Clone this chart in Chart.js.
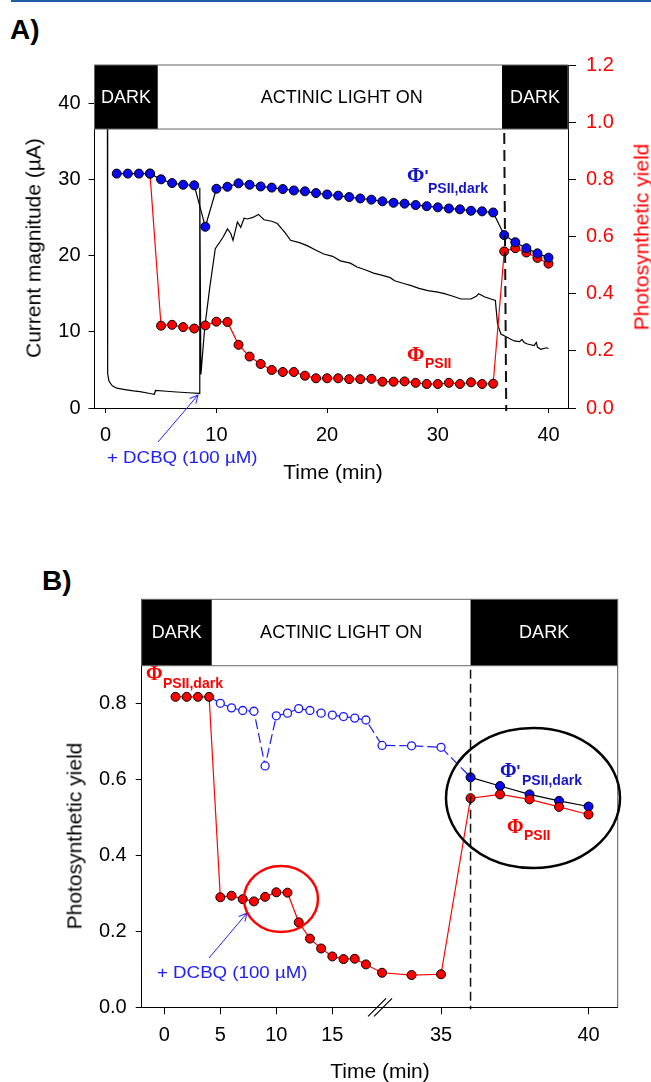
<!DOCTYPE html>
<html>
<head>
<meta charset="utf-8">
<script src="https://cdn.jsdelivr.net/npm/chart.js@4.4.1/dist/chart.umd.min.js"></script>
<style>
  body { margin: 0; background: #fff; }
  #page { position: relative; width: 651px; height: 1082px; overflow: hidden; font-family: "Liberation Sans", Arial, sans-serif; }
  canvas { position: absolute; left: 0; }
  .t { position: absolute; white-space: nowrap; line-height: 1; }
  .phi { font-family: "Liberation Serif", serif; font-weight: bold; font-size: 21px; }
  .sub { font-weight: bold; font-size: 14px; }
  .ttl { font-size: 21px; transform: translate(-50%, -50%); }
  .rot { transform: translate(-50%, -50%) rotate(-90deg); }
  .blue { color: #1414c8; }
  .red { color: #ff0000; }
</style>
</head>
<body>
<div id="page">
  <div style="position:absolute;left:11px;top:0;width:640px;height:2px;background:#1f5ca8"></div>
  <div class="t" style="left:10px;top:16px;font-size:28px;font-weight:bold">A)</div>
  <div class="t" style="left:42px;top:567px;font-size:28px;font-weight:bold">B)</div>

  <canvas id="chartA" width="651" height="470" style="top:0"></canvas>
  <canvas id="chartB" width="651" height="542" style="top:540px"></canvas>

  <!-- axis titles -->
  <div class="t ttl rot" style="left:33px;top:248px">Current magnitude (µA)</div>
  <div class="t ttl rot red" style="left:641px;top:237px">Photosynthetic yield</div>
  <div class="t ttl" style="left:333px;top:471px">Time (min)</div>
  <div class="t ttl rot" style="left:74px;top:836px">Photosynthetic yield</div>
  <div class="t ttl" style="left:380px;top:1070px">Time (min)</div>

  <!-- labels panel A -->
  <div class="t phi blue" style="left:407px;top:165px">Φ<span style="font-family:'Liberation Sans';font-size:17px">'</span></div>
  <div class="t sub blue" style="left:428px;top:181px">PSII,dark</div>
  <div class="t phi red" style="left:407px;top:344px">Φ</div>
  <div class="t sub red" style="left:425px;top:356px">PSII</div>
  <div class="t blue" style="left:107px;top:449px;font-size:17px;color:#2020ff;transform:scaleX(1.1);transform-origin:left">+ DCBQ (100 µM)</div>

  <!-- labels panel B -->
  <div class="t phi red" style="left:146px;top:663px;font-size:20px">Φ</div>
  <div class="t sub red" style="left:163px;top:676px">PSII,dark</div>
  <div class="t phi blue" style="left:500px;top:760px;font-size:20px">Φ<span style="font-family:'Liberation Sans';font-size:16px">'</span></div>
  <div class="t sub blue" style="left:522px;top:773px">PSII,dark</div>
  <div class="t phi red" style="left:507px;top:816px;font-size:20px">Φ</div>
  <div class="t sub red" style="left:524px;top:828px">PSII</div>
  <div class="t blue" style="left:157px;top:964px;font-size:17px;color:#2020ff;transform:scaleX(1.1);transform-origin:left">+ DCBQ (100 µM)</div>

  <svg width="651" height="1082" style="position:absolute;left:0;top:0;pointer-events:none">
    <defs>
      <marker id="head" markerWidth="10" markerHeight="10" refX="9" refY="5" orient="auto" markerUnits="userSpaceOnUse">
        <path d="M1,1 L9,5 L1,9" fill="none" stroke="#2020ff" stroke-width="1"/>
      </marker>
    </defs>
    <line x1="158" y1="442" x2="198" y2="395" stroke="#2020ff" stroke-width="1" marker-end="url(#head)"/>
    <line x1="209" y1="958" x2="247" y2="913" stroke="#2020ff" stroke-width="1" marker-end="url(#head)"/>
    <ellipse cx="281" cy="899" rx="37" ry="33" fill="none" stroke="#ff0000" stroke-width="2.5"/>
    <ellipse cx="533" cy="798" rx="87" ry="70" fill="none" stroke="#000" stroke-width="2.5"/>
  </svg>
</div>

<script>
// ---------- panel A ----------
// blue: photosynthetic yield measured in dark, one reading per minute
const aTime = [1, 2, 3, 4, 5, 6, 7, 8, 9, 10, 11, 12, 13, 14, 15, 16, 17, 18, 19, 20,
               21, 22, 23, 24, 25, 26, 27, 28, 29, 30, 31, 32, 33, 34, 35, 36, 37, 38, 39, 40];
const aYieldDark = [0.82, 0.82, 0.82, 0.82, 0.80, 0.787, 0.781, 0.779, 0.634, 0.767,
                    0.774, 0.786, 0.781, 0.775, 0.771, 0.766, 0.761, 0.758, 0.752, 0.747,
                    0.743, 0.738, 0.733, 0.729, 0.723, 0.718, 0.715, 0.710, 0.706, 0.702,
                    0.698, 0.695, 0.690, 0.688, 0.684, 0.605, 0.580, 0.559, 0.541, 0.526];
// red: PSII yield
const aTimePsii = [4, 5, 6, 7, 8, 9, 10, 11, 12, 13, 14, 15, 16, 17, 18, 19, 20, 21, 22,
                   23, 24, 25, 26, 27, 28, 29, 30, 31, 32, 33, 34, 35, 36, 37, 38, 39, 40];
const aYieldPsii = [0.82, 0.288, 0.291, 0.283, 0.278, 0.289, 0.302, 0.301, 0.221, 0.180,
                    0.154, 0.133, 0.126, 0.126, 0.113, 0.104, 0.104, 0.104, 0.101, 0.101,
                    0.102, 0.092, 0.092, 0.093, 0.088, 0.084, 0.084, 0.088, 0.084, 0.090,
                    0.084, 0.085, 0.548, 0.559, 0.544, 0.525, 0.505];
// black: current trace (µA)
const traceTime = [0.15, 0.18, 0.3, 0.6, 1.0, 1.6, 2.5, 3.1, 4.0, 4.4, 4.5, 5.5, 6.4, 7.5, 8.45,
                   8.5, 8.6, 8.95, 9.4, 9.9, 10.6, 11.0, 11.3, 11.5, 11.9, 12.2, 12.5, 12.8, 13.3,
                   13.8, 14.3, 15.0, 15.5, 16.2, 16.7, 17.5, 18.2, 19.0, 19.7, 20.5, 21.2, 22.1,
                   22.7, 23.5, 24.2, 25.0, 25.7, 26.1, 27.0, 27.6, 28.3, 29.1, 30.0, 30.6, 31.3,
                   32.1, 33.0, 33.5, 33.7, 34.2, 34.8, 35.2, 35.3, 35.4, 35.7, 36.3, 36.9, 37.4,
                   37.6, 37.8, 38.1, 38.7, 38.9, 39.0, 39.3, 39.8, 40.0];
const traceCurrent = [45, 4.5, 3.5, 2.9, 2.6, 2.45, 2.25, 2.15, 1.9, 1.8, 2.3, 2.2, 2.1, 2.0, 1.93,
                      28.9, 4.4, 10.6, 15.8, 20.9, 22.4, 23.5, 22.9, 22.0, 24.4, 23.7, 24.9, 24.8, 25.0,
                      25.4, 24.7, 24.5, 24.2, 23.0, 22.0, 21.7, 21.3, 20.7, 20.2, 19.9, 19.3, 19.0,
                      18.5, 18.1, 17.7, 17.4, 17.1, 16.7, 16.3, 16.05, 15.7, 15.4, 15.2, 15.0, 14.7,
                      14.3, 14.3, 14.7, 15.0, 14.6, 14.3, 14.1, 12.5, 11.0, 9.7, 9.25, 8.8, 8.7,
                      9.0, 8.6, 8.4, 8.2, 8.6, 8.0, 7.7, 7.9, 7.8];
const aXTicks = [0, 10, 20, 30, 40];
const aCurTicks = [0, 10, 20, 30, 40];
const aYieldTicks = [0, 0.2, 0.4, 0.6, 0.8, 1.0, 1.2];

// ---------- panel B ----------
const bTimePsii = [1, 2, 3, 4, 5, 6, 7, 8, 9, 10, 11, 12, 13, 14, 15, 16, 17, 18,
                   33, 34, 35, 36, 37, 38, 39, 40];
const bYieldPsii = [0.818, 0.818, 0.818, 0.818, 0.290, 0.294, 0.285, 0.279, 0.291, 0.303,
                    0.302, 0.224, 0.181, 0.155, 0.134, 0.127, 0.128, 0.113,
                    0.091, 0.085, 0.087, 0.551, 0.561, 0.548, 0.528, 0.508];
const bTimeLight = [4, 5, 6, 7, 8, 9, 10, 11, 12, 13, 14, 15, 16, 17, 18, 33, 34, 35, 36];
const bYieldLight = [0.818, 0.801, 0.789, 0.782, 0.780, 0.636, 0.768, 0.775, 0.787, 0.782,
                     0.775, 0.770, 0.766, 0.762, 0.757, 0.690, 0.689, 0.685, 0.606];
const bTimeDark = [36, 37, 38, 39, 40];
const bYieldDark = [0.606, 0.583, 0.561, 0.544, 0.529];
const bXTicks = [0, 5, 10, 15, 35, 40];
const bYTicks = [0, 0.2, 0.4, 0.6, 0.8];

// broken time axis of panel B: 18 -> 33 min is cut out, later part stretched
function brk(t) {
    return t <= 18 ? t : 19.44 + (t - 33) * 2.634;
}

const pts = (xs, ys, f) => xs.map((x, i) => ({ x: f ? f(x) : x, y: ys[i] }));

Chart.defaults.font.family = '"Liberation Sans", Arial, sans-serif';
Chart.defaults.animation = false;

function fixTicks(list) {
    return function (scale) { scale.ticks = list.map(v => ({ value: v })); };
}

// header band (DARK / ACTINIC LIGHT ON / DARK) + dashed marker line
function headerPlugin(cfg) {
    return {
        id: 'header' + cfg.name,
        afterDatasetsDraw(chart) {
            const { ctx, chartArea: a, scales } = chart;
            const xs = scales.x;
            const yb = scales.y.getPixelForValue(cfg.bottom);
            const x1 = xs.getPixelForValue(cfg.darkEnd);
            const x2 = xs.getPixelForValue(cfg.darkStart);
            ctx.save();
            ctx.fillStyle = '#fff';
            ctx.fillRect(x1, a.top, x2 - x1, yb - a.top);
            ctx.fillStyle = '#000';
            ctx.fillRect(a.left, a.top, x1 - a.left, yb - a.top);
            ctx.fillRect(x2, a.top, a.right - x2, yb - a.top);
            ctx.strokeStyle = '#666';
            ctx.lineWidth = 1;
            ctx.strokeRect(a.left, a.top, a.right - a.left, yb - a.top);
            ctx.font = '18px "Liberation Sans", Arial, sans-serif';
            ctx.textAlign = 'center';
            ctx.textBaseline = 'middle';
            const ym = (a.top + yb) / 2 + 1;
            ctx.fillStyle = '#fff';
            ctx.fillText('DARK', (a.left + x1) / 2, ym);
            ctx.fillText('DARK', (x2 + a.right) / 2, ym);
            ctx.fillStyle = '#000';
            ctx.fillText('ACTINIC LIGHT ON', (x1 + x2) / 2 + cfg.shift, ym);

            if (cfg.frame) {
                ctx.strokeStyle = '#555';
                ctx.beginPath();
                ctx.moveTo(a.right, yb);
                ctx.lineTo(a.right, a.bottom);
                ctx.stroke();
            }
            // dashed line
            const xd = xs.getPixelForValue(cfg.dash);
            ctx.strokeStyle = '#111';
            ctx.lineWidth = cfg.dashW;
            ctx.setLineDash(cfg.dashPat);
            ctx.beginPath();
            ctx.moveTo(xd, yb + 4);
            ctx.lineTo(xd + cfg.dashLean, a.bottom + cfg.dashOver);
            ctx.stroke();
            ctx.setLineDash([]);

            if (cfg.breakAt !== undefined) {
                const xb = xs.getPixelForValue(cfg.breakAt);
                ctx.strokeStyle = '#000';
                ctx.lineWidth = 1.2;
                ctx.beginPath();
                for (const o of [-3, 3]) {
                    ctx.moveTo(xb + o - 9, a.bottom + 9);
                    ctx.lineTo(xb + o + 9, a.bottom - 9);
                }
                ctx.stroke();
            }
            ctx.restore();
        }
    };
}

const axisGrid = { drawOnChartArea: false, color: '#000', tickLength: 6, tickColor: '#000' };
const tickFont = { size: 20 };

new Chart(document.getElementById('chartA'), {
    type: 'scatter',
    data: {
        datasets: [
            {
                data: pts(aTime, aYieldDark), yAxisID: 'y2', order: 0, showLine: true,
                borderColor: '#000', borderWidth: 1.2,
                pointRadius: 4.5, pointBackgroundColor: '#0a0aee', pointBorderColor: '#000', pointBorderWidth: 1
            },
            {
                data: pts(aTimePsii, aYieldPsii), yAxisID: 'y2', order: 1, showLine: true,
                borderColor: '#ff0000', borderWidth: 1.2,
                pointRadius: 4.5, pointBackgroundColor: '#ff0000', pointBorderColor: '#000', pointBorderWidth: 1
            },
            {
                data: pts(traceTime, traceCurrent), yAxisID: 'y', order: 2, showLine: true,
                borderColor: '#000', borderWidth: 1.2, pointRadius: 0
            }
        ]
    },
    options: {
        responsive: false,
        layout: { padding: { top: 65, left: 0, right: 0, bottom: 0 } },
        plugins: { legend: { display: false }, tooltip: { enabled: false } },
        scales: {
            x: {
                type: 'linear', min: -1.01, max: 41.76,
                afterBuildTicks: fixTicks(aXTicks),
                afterFit(s) { s.height = 62; },
                grid: { ...axisGrid, tickLength: 5 },
                border: { color: '#000' },
                ticks: { font: tickFont, color: '#000', padding: 10, maxRotation: 0 }
            },
            y: {
                position: 'left', min: 0, max: 45,
                afterBuildTicks: fixTicks(aCurTicks),
                afterFit(s) { s.width = 94.5; },
                grid: axisGrid,
                border: { color: '#000' },
                ticks: { font: tickFont, color: '#000', padding: 8 }
            },
            y2: {
                position: 'right', min: 0, max: 1.2,
                afterBuildTicks: fixTicks(aYieldTicks),
                afterFit(s) { s.width = 83; },
                grid: { ...axisGrid, tickLength: 8 },
                border: { color: '#000' },
                ticks: { font: tickFont, color: '#ff0000', padding: 10, callback: v => v.toFixed(1) }
            }
        }
    },
    plugins: [headerPlugin({
        name: 'A', bottom: 36.6, darkEnd: 4.7, darkStart: 35.8, shift: 12,
        dash: 36.0, dashLean: 2, dashW: 2, dashPat: [11, 6], dashOver: 3
    })]
});

new Chart(document.getElementById('chartB'), {
    type: 'scatter',
    data: {
        datasets: [
            {
                data: pts(bTimePsii, bYieldPsii, brk), order: 0, showLine: true,
                borderColor: '#ff0000', borderWidth: 1.2,
                pointRadius: 4.5, pointBackgroundColor: '#ff0000', pointBorderColor: '#000', pointBorderWidth: 1
            },
            {
                data: pts(bTimeDark, bYieldDark, brk), order: 1, showLine: true,
                borderColor: '#000', borderWidth: 1.2,
                pointRadius: 4.5, pointBackgroundColor: '#0a0aee', pointBorderColor: '#000', pointBorderWidth: 1
            },
            {
                data: pts(bTimeLight, bYieldLight, brk), order: 2, showLine: true,
                borderColor: '#1a1aff', borderWidth: 1.2, borderDash: [10, 4],
                pointRadius: ctx => (ctx.dataIndex === 0 || ctx.dataIndex === bTimeLight.length - 1) ? 0 : 4,
                pointBackgroundColor: '#fff', pointBorderColor: '#1a1aff', pointBorderWidth: 1.3
            }
        ]
    },
    options: {
        responsive: false,
        layout: { padding: { top: 59.3, left: 0, right: 33.3, bottom: 0 } },
        plugins: { legend: { display: false }, tooltip: { enabled: false } },
        scales: {
            x: {
                type: 'linear', min: -2.02, max: 40.48,
                afterBuildTicks: fixTicks(bXTicks.map(brk)),
                afterFit(s) { s.height = 74.7; },
                grid: { ...axisGrid, tickLength: 7 },
                border: { color: '#000' },
                ticks: {
                    font: tickFont, color: '#000', padding: 9, maxRotation: 0,
                    callback: v => {
                        const i = bXTicks.findIndex(t => Math.abs(brk(t) - v) < 1e-6);
                        return i >= 0 ? String(bXTicks[i]) : '';
                    }
                }
            },
            y: {
                position: 'left', min: 0, max: 1.075,
                afterBuildTicks: fixTicks(bYTicks),
                afterFit(s) { s.width = 141.7; },
                grid: axisGrid,
                border: { color: '#000' },
                ticks: { font: tickFont, color: '#000', padding: 9, callback: v => v.toFixed(1) }
            }
        }
    },
    plugins: [headerPlugin({
        name: 'B', bottom: 0.9, darkEnd: 4.23, darkStart: brk(36), shift: 0, frame: true,
        dash: brk(36), dashLean: 0, dashW: 1.5, dashPat: [9, 5], dashOver: 2, breakAt: 19.26
    })]
});
</script>
</body>
</html>
